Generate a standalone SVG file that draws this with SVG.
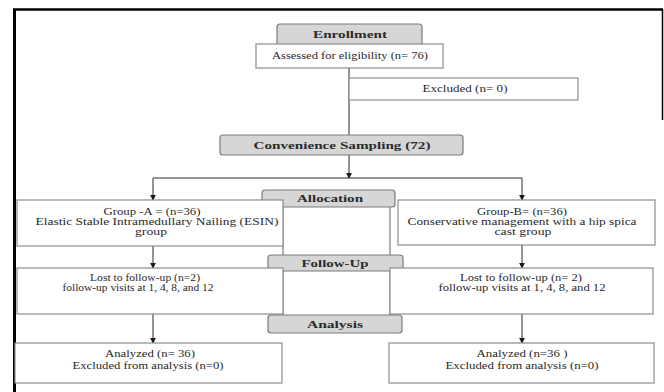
<svg xmlns="http://www.w3.org/2000/svg" width="664" height="392" viewBox="0 0 664 392">
<style>
.bx{fill:#ffffff;stroke:#8c8c8c;stroke-width:1.2}
.hd{fill:#d6d6d6;stroke:#7a7a7a;stroke-width:1.2}
.t{font-family:"Liberation Serif","Times New Roman",serif;font-size:10px;fill:#2a2a2a;text-anchor:middle}
.h{font-family:"Liberation Serif","Times New Roman",serif;font-size:11px;font-weight:bold;fill:#2a2a2a;text-anchor:middle}
.ln{stroke:#2a2a2a;stroke-width:1;fill:none}
.gl{stroke:#7a7a7a;stroke-width:1.2;fill:none}
</style>
<defs>
<marker id="ar" viewBox="0 0 8 8" refX="7" refY="4" markerWidth="6" markerHeight="6" orient="auto" markerUnits="userSpaceOnUse">
<path d="M0,0 L8,4 L0,8 z" fill="#1a1a1a"/>
</marker>
</defs>
<rect width="664" height="392" fill="#ffffff"/>
<g id="frame">
<line x1="14.5" y1="9" x2="14.5" y2="392" stroke="#000" stroke-width="3"/>
<line x1="13" y1="9.5" x2="663" y2="9.5" stroke="#000" stroke-width="2.5"/>
<line x1="662.5" y1="9" x2="662.5" y2="120" stroke="#000" stroke-width="1.5"/>
</g>
<g id="connectors">
<line class="ln" x1="349" y1="68" x2="349" y2="135"/>
<line class="ln" x1="349" y1="155" x2="349" y2="178" marker-end="url(#ar)"/>
<line class="ln" x1="153" y1="178" x2="522" y2="178"/>
<line class="ln" x1="153" y1="178" x2="153" y2="200" marker-end="url(#ar)"/>
<line class="ln" x1="522" y1="178" x2="522" y2="200" marker-end="url(#ar)"/>
<line class="ln" x1="153" y1="246" x2="153" y2="268" marker-end="url(#ar)"/>
<line class="ln" x1="522" y1="245" x2="522" y2="268" marker-end="url(#ar)"/>
<line class="ln" x1="153" y1="314" x2="153" y2="343" marker-end="url(#ar)"/>
<line class="ln" x1="522" y1="314" x2="522" y2="343" marker-end="url(#ar)"/>
<line class="gl" x1="283" y1="207" x2="283" y2="255"/>
<line class="gl" x1="390" y1="207" x2="390" y2="255"/>
<line class="gl" x1="283" y1="271" x2="283" y2="315"/>
<line class="gl" x1="390" y1="271" x2="390" y2="315"/>
</g>
<g id="enrollment">
<rect class="hd" x="277" y="24" width="145" height="22" rx="3"/>
<text class="h" x="350" y="38" textLength="74" lengthAdjust="spacingAndGlyphs">Enrollment</text>
</g>
<g id="assessed">
<rect class="bx" x="256" y="44" width="187" height="24"/>
<text class="t" x="350" y="59" textLength="156" lengthAdjust="spacingAndGlyphs">Assessed for eligibility (n= 76)</text>
</g>
<g id="excluded">
<rect class="bx" x="349" y="78" width="229" height="22"/>
<text class="t" x="465" y="92" textLength="85" lengthAdjust="spacingAndGlyphs">Excluded (n= 0)</text>
</g>
<g id="convenience">
<rect class="hd" x="220" y="135" width="243" height="20" rx="3"/>
<text class="h" x="342" y="149" textLength="177" lengthAdjust="spacingAndGlyphs">Convenience Sampling (72)</text>
</g>
<g id="allocation">
<rect class="hd" x="262" y="190" width="133" height="17" rx="3"/>
<text class="h" x="330" y="202" textLength="66" lengthAdjust="spacingAndGlyphs">Allocation</text>
</g>
<g id="groupA">
<rect class="bx" x="17" y="200" width="266" height="46"/>
<text class="t" x="152" y="215" textLength="97" lengthAdjust="spacingAndGlyphs">Group -A = (n=36)</text>
<text class="t" x="157" y="225" textLength="243" lengthAdjust="spacingAndGlyphs">Elastic Stable Intramedullary Nailing (ESIN)</text>
<text class="t" x="151" y="235" textLength="32" lengthAdjust="spacingAndGlyphs">group</text>
</g>
<g id="groupB">
<rect class="bx" x="398" y="200" width="257" height="45"/>
<text class="t" x="522" y="215" textLength="90" lengthAdjust="spacingAndGlyphs">Group-B= (n=36)</text>
<text class="t" x="522" y="225" textLength="229" lengthAdjust="spacingAndGlyphs">Conservative management with a hip spica</text>
<text class="t" x="523" y="235" textLength="57" lengthAdjust="spacingAndGlyphs">cast group</text>
</g>
<g id="followup">
<rect class="hd" x="268" y="255" width="135" height="16" rx="3"/>
<text class="h" x="335" y="267" textLength="67" lengthAdjust="spacingAndGlyphs">Follow-Up</text>
</g>
<g id="followA">
<rect class="bx" x="17" y="268" width="266" height="46"/>
<text class="t" x="145" y="281" textLength="110" lengthAdjust="spacingAndGlyphs">Lost to follow-up (n=2)</text>
<text class="t" x="138" y="291" textLength="151" lengthAdjust="spacingAndGlyphs">follow-up visits at 1, 4, 8, and 12</text>
</g>
<g id="followB">
<rect class="bx" x="390" y="268" width="263" height="46"/>
<text class="t" x="521" y="281" textLength="122" lengthAdjust="spacingAndGlyphs">Lost to follow-up (n= 2)</text>
<text class="t" x="522" y="291" textLength="167" lengthAdjust="spacingAndGlyphs">follow-up visits at 1, 4, 8, and 12</text>
</g>
<g id="analysis">
<rect class="hd" x="268" y="315" width="134" height="18" rx="3"/>
<text class="h" x="335" y="328" textLength="56" lengthAdjust="spacingAndGlyphs">Analysis</text>
</g>
<g id="analysisA">
<rect class="bx" x="15" y="343" width="267" height="40"/>
<text class="t" x="150" y="357" textLength="90" lengthAdjust="spacingAndGlyphs">Analyzed (n= 36)</text>
<text class="t" x="148" y="369" textLength="151" lengthAdjust="spacingAndGlyphs">Excluded from analysis (n=0)</text>
</g>
<g id="analysisB">
<rect class="bx" x="389" y="343" width="265" height="40"/>
<text class="t" x="522" y="357" textLength="91" lengthAdjust="spacingAndGlyphs">Analyzed  (n=36 )</text>
<text class="t" x="522" y="369" textLength="153" lengthAdjust="spacingAndGlyphs">Excluded from analysis (n=0)</text>
</g>
</svg>
